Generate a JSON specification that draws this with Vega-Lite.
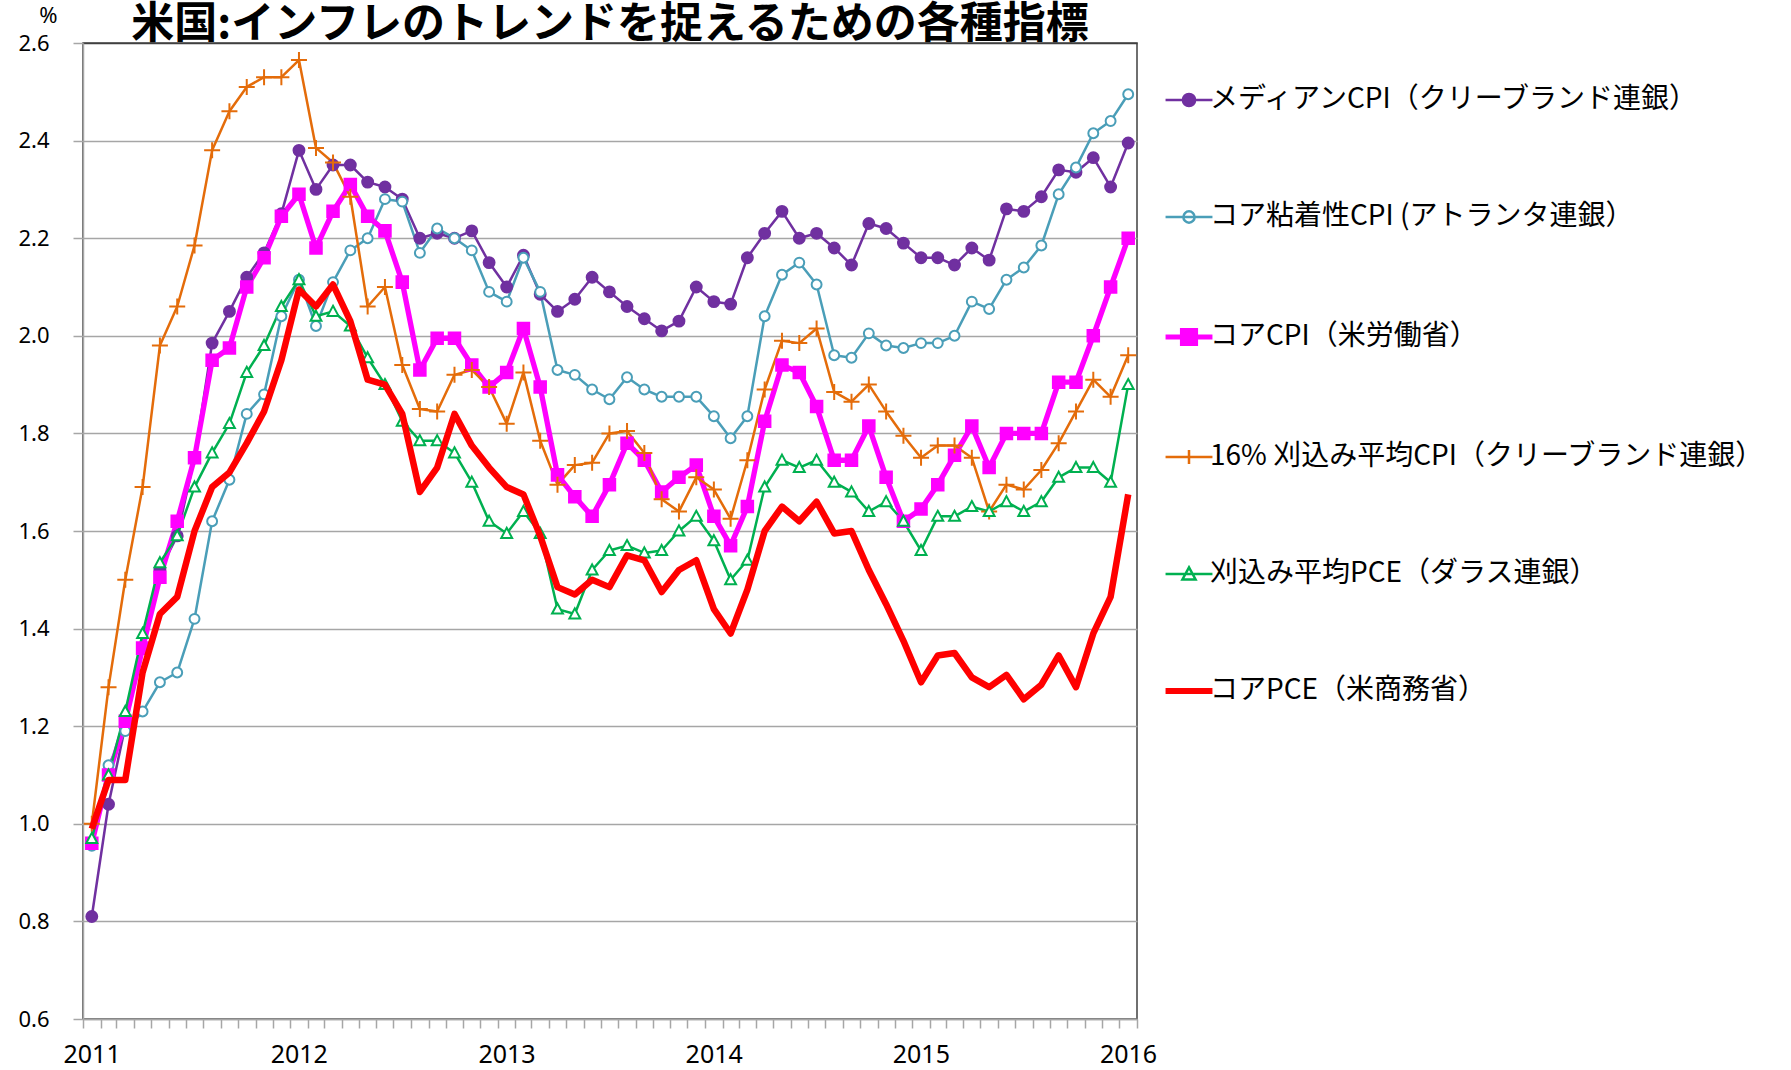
{
  "$schema": "https://vega.github.io/schema/vega-lite/v6.json",
  "width": 1054,
  "height": 976,
  "autosize": {"type": "none"},
  "padding": {"left": 83, "top": 43, "right": 654, "bottom": 51},
  "background": "white",
  "title": {"text": "米国:インフレのトレンドを捉えるための各種指標", "font": "Noto Sans CJK JP", "fontSize": 43, "fontWeight": "bold", "color": "#000000", "anchor": "middle", "frame": "group", "baseline": "alphabetic", "offset": -77},
  "data": {"values": [
    {"date": "2011/01/01", "median": 0.81, "sticky": 0.955, "core_cpi": 0.96, "trim16": 1.00, "trim_pce": 0.97, "core_pce": 0.99},
    {"date": "2011/02/01", "median": 1.04, "sticky": 1.12, "core_cpi": 1.10, "trim16": 1.28, "trim_pce": 1.10, "core_pce": 1.09},
    {"date": "2011/03/01", "median": 1.20, "sticky": 1.19, "core_cpi": 1.21, "trim16": 1.50, "trim_pce": 1.23, "core_pce": 1.09},
    {"date": "2011/04/01", "median": 1.36, "sticky": 1.23, "core_cpi": 1.36, "trim16": 1.69, "trim_pce": 1.39, "core_pce": 1.31},
    {"date": "2011/05/01", "median": 1.52, "sticky": 1.29, "core_cpi": 1.505, "trim16": 1.98, "trim_pce": 1.535, "core_pce": 1.43},
    {"date": "2011/06/01", "median": 1.59, "sticky": 1.31, "core_cpi": 1.62, "trim16": 2.06, "trim_pce": 1.59, "core_pce": 1.465},
    {"date": "2011/07/01", "median": 1.75, "sticky": 1.42, "core_cpi": 1.75, "trim16": 2.185, "trim_pce": 1.69, "core_pce": 1.60},
    {"date": "2011/08/01", "median": 1.985, "sticky": 1.62, "core_cpi": 1.95, "trim16": 2.38, "trim_pce": 1.76, "core_pce": 1.69},
    {"date": "2011/09/01", "median": 2.05, "sticky": 1.705, "core_cpi": 1.975, "trim16": 2.46, "trim_pce": 1.82, "core_pce": 1.72},
    {"date": "2011/10/01", "median": 2.12, "sticky": 1.84, "core_cpi": 2.10, "trim16": 2.51, "trim_pce": 1.925, "core_pce": 1.78},
    {"date": "2011/11/01", "median": 2.17, "sticky": 1.88, "core_cpi": 2.16, "trim16": 2.53, "trim_pce": 1.98, "core_pce": 1.845},
    {"date": "2011/12/01", "median": 2.25, "sticky": 2.04, "core_cpi": 2.245, "trim16": 2.53, "trim_pce": 2.06, "core_pce": 1.95},
    {"date": "2012/01/01", "median": 2.38, "sticky": 2.115, "core_cpi": 2.29, "trim16": 2.565, "trim_pce": 2.115, "core_pce": 2.095},
    {"date": "2012/02/01", "median": 2.30, "sticky": 2.02, "core_cpi": 2.18, "trim16": 2.385, "trim_pce": 2.04, "core_pce": 2.06},
    {"date": "2012/03/01", "median": 2.35, "sticky": 2.11, "core_cpi": 2.255, "trim16": 2.355, "trim_pce": 2.05, "core_pce": 2.105},
    {"date": "2012/04/01", "median": 2.35, "sticky": 2.175, "core_cpi": 2.31, "trim16": 2.285, "trim_pce": 2.02, "core_pce": 2.03},
    {"date": "2012/05/01", "median": 2.315, "sticky": 2.20, "core_cpi": 2.245, "trim16": 2.06, "trim_pce": 1.955, "core_pce": 1.91},
    {"date": "2012/06/01", "median": 2.305, "sticky": 2.28, "core_cpi": 2.215, "trim16": 2.10, "trim_pce": 1.90, "core_pce": 1.90},
    {"date": "2012/07/01", "median": 2.28, "sticky": 2.275, "core_cpi": 2.11, "trim16": 1.94, "trim_pce": 1.825, "core_pce": 1.84},
    {"date": "2012/08/01", "median": 2.20, "sticky": 2.17, "core_cpi": 1.93, "trim16": 1.85, "trim_pce": 1.785, "core_pce": 1.68},
    {"date": "2012/09/01", "median": 2.21, "sticky": 2.22, "core_cpi": 1.995, "trim16": 1.845, "trim_pce": 1.785, "core_pce": 1.73},
    {"date": "2012/10/01", "median": 2.20, "sticky": 2.20, "core_cpi": 1.995, "trim16": 1.92, "trim_pce": 1.76, "core_pce": 1.84},
    {"date": "2012/11/01", "median": 2.215, "sticky": 2.175, "core_cpi": 1.94, "trim16": 1.93, "trim_pce": 1.70, "core_pce": 1.775},
    {"date": "2012/12/01", "median": 2.15, "sticky": 2.09, "core_cpi": 1.895, "trim16": 1.895, "trim_pce": 1.62, "core_pce": 1.73},
    {"date": "2013/01/01", "median": 2.10, "sticky": 2.07, "core_cpi": 1.925, "trim16": 1.82, "trim_pce": 1.595, "core_pce": 1.69},
    {"date": "2013/02/01", "median": 2.165, "sticky": 2.16, "core_cpi": 2.015, "trim16": 1.925, "trim_pce": 1.64, "core_pce": 1.675},
    {"date": "2013/03/01", "median": 2.085, "sticky": 2.09, "core_cpi": 1.895, "trim16": 1.785, "trim_pce": 1.595, "core_pce": 1.59},
    {"date": "2013/04/01", "median": 2.05, "sticky": 1.93, "core_cpi": 1.715, "trim16": 1.695, "trim_pce": 1.44, "core_pce": 1.485},
    {"date": "2013/05/01", "median": 2.075, "sticky": 1.92, "core_cpi": 1.67, "trim16": 1.735, "trim_pce": 1.43, "core_pce": 1.47},
    {"date": "2013/06/01", "median": 2.12, "sticky": 1.89, "core_cpi": 1.63, "trim16": 1.74, "trim_pce": 1.52, "core_pce": 1.50},
    {"date": "2013/07/01", "median": 2.09, "sticky": 1.87, "core_cpi": 1.695, "trim16": 1.80, "trim_pce": 1.56, "core_pce": 1.485},
    {"date": "2013/08/01", "median": 2.06, "sticky": 1.915, "core_cpi": 1.78, "trim16": 1.805, "trim_pce": 1.57, "core_pce": 1.55},
    {"date": "2013/09/01", "median": 2.035, "sticky": 1.89, "core_cpi": 1.745, "trim16": 1.76, "trim_pce": 1.555, "core_pce": 1.54},
    {"date": "2013/10/01", "median": 2.01, "sticky": 1.875, "core_cpi": 1.68, "trim16": 1.665, "trim_pce": 1.56, "core_pce": 1.475},
    {"date": "2013/11/01", "median": 2.03, "sticky": 1.875, "core_cpi": 1.71, "trim16": 1.64, "trim_pce": 1.60, "core_pce": 1.52},
    {"date": "2013/12/01", "median": 2.10, "sticky": 1.875, "core_cpi": 1.735, "trim16": 1.71, "trim_pce": 1.63, "core_pce": 1.54},
    {"date": "2014/01/01", "median": 2.07, "sticky": 1.835, "core_cpi": 1.63, "trim16": 1.685, "trim_pce": 1.58, "core_pce": 1.44},
    {"date": "2014/02/01", "median": 2.065, "sticky": 1.79, "core_cpi": 1.57, "trim16": 1.625, "trim_pce": 1.50, "core_pce": 1.39},
    {"date": "2014/03/01", "median": 2.16, "sticky": 1.835, "core_cpi": 1.65, "trim16": 1.745, "trim_pce": 1.54, "core_pce": 1.48},
    {"date": "2014/04/01", "median": 2.21, "sticky": 2.04, "core_cpi": 1.825, "trim16": 1.89, "trim_pce": 1.69, "core_pce": 1.60},
    {"date": "2014/05/01", "median": 2.255, "sticky": 2.125, "core_cpi": 1.94, "trim16": 1.99, "trim_pce": 1.745, "core_pce": 1.65},
    {"date": "2014/06/01", "median": 2.20, "sticky": 2.15, "core_cpi": 1.925, "trim16": 1.985, "trim_pce": 1.73, "core_pce": 1.62},
    {"date": "2014/07/01", "median": 2.21, "sticky": 2.105, "core_cpi": 1.855, "trim16": 2.015, "trim_pce": 1.745, "core_pce": 1.66},
    {"date": "2014/08/01", "median": 2.18, "sticky": 1.96, "core_cpi": 1.745, "trim16": 1.885, "trim_pce": 1.70, "core_pce": 1.595},
    {"date": "2014/09/01", "median": 2.145, "sticky": 1.955, "core_cpi": 1.745, "trim16": 1.865, "trim_pce": 1.68, "core_pce": 1.60},
    {"date": "2014/10/01", "median": 2.23, "sticky": 2.005, "core_cpi": 1.815, "trim16": 1.90, "trim_pce": 1.64, "core_pce": 1.52},
    {"date": "2014/11/01", "median": 2.22, "sticky": 1.98, "core_cpi": 1.71, "trim16": 1.845, "trim_pce": 1.66, "core_pce": 1.45},
    {"date": "2014/12/01", "median": 2.19, "sticky": 1.975, "core_cpi": 1.62, "trim16": 1.795, "trim_pce": 1.62, "core_pce": 1.375},
    {"date": "2015/01/01", "median": 2.16, "sticky": 1.985, "core_cpi": 1.645, "trim16": 1.75, "trim_pce": 1.56, "core_pce": 1.29},
    {"date": "2015/02/01", "median": 2.16, "sticky": 1.985, "core_cpi": 1.695, "trim16": 1.775, "trim_pce": 1.63, "core_pce": 1.345},
    {"date": "2015/03/01", "median": 2.145, "sticky": 2.00, "core_cpi": 1.755, "trim16": 1.775, "trim_pce": 1.63, "core_pce": 1.35},
    {"date": "2015/04/01", "median": 2.18, "sticky": 2.07, "core_cpi": 1.815, "trim16": 1.75, "trim_pce": 1.65, "core_pce": 1.30},
    {"date": "2015/05/01", "median": 2.155, "sticky": 2.055, "core_cpi": 1.73, "trim16": 1.64, "trim_pce": 1.64, "core_pce": 1.28},
    {"date": "2015/06/01", "median": 2.26, "sticky": 2.115, "core_cpi": 1.80, "trim16": 1.695, "trim_pce": 1.66, "core_pce": 1.305},
    {"date": "2015/07/01", "median": 2.255, "sticky": 2.14, "core_cpi": 1.80, "trim16": 1.685, "trim_pce": 1.64, "core_pce": 1.255},
    {"date": "2015/08/01", "median": 2.285, "sticky": 2.185, "core_cpi": 1.80, "trim16": 1.725, "trim_pce": 1.66, "core_pce": 1.285},
    {"date": "2015/09/01", "median": 2.34, "sticky": 2.29, "core_cpi": 1.905, "trim16": 1.78, "trim_pce": 1.71, "core_pce": 1.345},
    {"date": "2015/10/01", "median": 2.335, "sticky": 2.345, "core_cpi": 1.905, "trim16": 1.845, "trim_pce": 1.73, "core_pce": 1.28},
    {"date": "2015/11/01", "median": 2.365, "sticky": 2.415, "core_cpi": 2.00, "trim16": 1.91, "trim_pce": 1.73, "core_pce": 1.39},
    {"date": "2015/12/01", "median": 2.305, "sticky": 2.44, "core_cpi": 2.10, "trim16": 1.875, "trim_pce": 1.70, "core_pce": 1.465},
    {"date": "2016/01/01", "median": 2.395, "sticky": 2.495, "core_cpi": 2.20, "trim16": 1.96, "trim_pce": 1.90, "core_pce": 1.675}
  ]},
  "transform": [{"fold": ["median", "sticky", "core_cpi", "trim16", "trim_pce", "core_pce"], "as": ["series", "value"]}],
  "encoding": {
    "x": {
      "field": "date", "type": "temporal", "timeUnit": "yearmonth", "bandPosition": 0.5,
      "scale": {"domain": [{"year": 2011, "month": 1, "date": 1}, {"year": 2016, "month": 2, "date": 1}], "nice": false},
      "axis": {
        "title": null, "grid": false,
        "tickCount": {"interval": "month", "step": 1},
        "labelExpr": "month(datum.value) == 0 ? timeFormat(datum.value, '%Y') : ''",
        "labelOffset": 8.6, "labelFlush": false, "labelOverlap": false, "labelBound": false,
        "tickSize": 9, "tickWidth": 1.5, "tickColor": "#a6a6a6",
        "domainColor": "#a6a6a6", "domainWidth": 1.5,
        "labelFontSize": 25, "labelPadding": 14, "labelFont": "Noto Sans", "labelColor": "#000000"
      }
    },
    "y": {
      "field": "value", "type": "quantitative",
      "scale": {"domain": [0.6, 2.6], "nice": false, "zero": false},
      "axis": {
        "values": [0.6, 0.8, 1.0, 1.2, 1.4, 1.6, 1.8, 2.0, 2.2, 2.4, 2.6],
        "format": ".1f",
        "title": "%", "titleAngle": 0, "titleX": -35, "titleY": -21, "titleAlign": "center", "titleBaseline": "alphabetic",
        "titleFontSize": 22, "titleFontWeight": "normal", "titleFont": "Noto Sans", "titleColor": "#000000",
        "grid": true,
        "gridColor": {"condition": {"test": "datum.value === 2.6", "value": "#404040"}, "value": "#a6a6a6"},
        "gridWidth": 1.5,
        "tickSize": 10, "tickWidth": 1.5, "tickColor": "#a6a6a6",
        "domainColor": "#a6a6a6", "domainWidth": 1.5,
        "labelFontSize": 22, "labelPadding": 24, "labelFont": "Noto Sans", "labelColor": "#000000"
      }
    },
    "stroke": {
      "field": "series", "type": "nominal",
      "scale": {
        "domain": ["median", "sticky", "core_cpi", "trim16", "trim_pce", "core_pce"],
        "range": ["#7030A0", "#4A9EB8", "#FF00FF", "#E46C0A", "#00B050", "#FF0000"]
      },
      "legend": {
        "title": null, "orient": "none", "legendX": 1092, "legendY": 43, "direction": "vertical",
        "symbolSize": 2200, "symbolStrokeWidth": 2.5, "symbolType": "M-1,0H1",
        "labelFontSize": 28, "labelFont": "Noto Sans CJK JP", "labelColor": "#000000", "labelLimit": 900, "labelOffset": 7,
        "rowPadding": 89, "padding": 0,
        "labelExpr": "datum.value === 'median' ? 'メディアンCPI（クリーブランド連銀）' : datum.value === 'sticky' ? 'コア粘着性CPI (アトランタ連銀）' : datum.value === 'core_cpi' ? 'コアCPI（米労働省）' : datum.value === 'trim16' ? '16% 刈込み平均CPI（クリーブランド連銀）' : datum.value === 'trim_pce' ? '刈込み平均PCE（ダラス連銀）' : 'コアPCE（米商務省）'",
        "encode": {
          "symbols": {
            "update": {
              "shape": {"signal": "datum.value === 'median' ? 'M-1,0H1M0.26,0A0.26,0.26,0,1,1,-0.26,0A0.26,0.26,0,1,1,0.26,0Z' : datum.value === 'sticky' ? 'M-1,0H1M0.24,0A0.24,0.24,0,1,1,-0.24,0A0.24,0.24,0,1,1,0.24,0Z' : datum.value === 'core_cpi' ? 'M-1,0H1M-0.28,-0.28H0.28V0.28H-0.28Z' : datum.value === 'trim16' ? 'M-1,0H1M0,-0.3V0.3' : datum.value === 'trim_pce' ? 'M-1,0H1M0,-0.28L0.28,0.23H-0.28Z' : 'M-1,0H1'"},
              "fill": {"signal": "datum.value === 'median' ? '#7030A0' : datum.value === 'core_cpi' ? '#FF00FF' : 'transparent'"},
              "strokeWidth": {"signal": "datum.value === 'core_pce' ? 6 : datum.value === 'core_cpi' ? 5 : 2.5"},
              "size": {"value": 2200},
              "opacity": {"value": 1}
            }
          }
        }
      }
    }
  },
  "layer": [
    {
      "transform": [{"filter": "datum.series !== 'core_pce'"}],
      "mark": {"type": "line", "strokeJoin": "round"},
      "encoding": {"strokeWidth": {"condition": {"test": "datum.series === 'core_cpi'", "value": 5.3}, "value": 2.5}}
    },
    {
      "transform": [{"filter": "datum.series !== 'core_pce'"}],
      "mark": {"type": "point", "filled": false, "size": 256, "strokeWidth": 2, "opacity": 1},
      "encoding": {
        "shape": {
          "condition": [
            {"test": "datum.series === 'median'", "value": "M0.68,0A0.68,0.68,0,1,1,-0.68,0A0.68,0.68,0,1,1,0.68,0Z"},
            {"test": "datum.series === 'sticky'", "value": "M0.62,0A0.62,0.62,0,1,1,-0.62,0A0.62,0.62,0,1,1,0.62,0Z"},
            {"test": "datum.series === 'core_cpi'", "value": "M-0.72,-0.72H0.72V0.72H-0.72Z"},
            {"test": "datum.series === 'trim16'", "value": "M-1,0H1M0,-1V1"}
          ],
          "value": "M0,-0.7L0.68,0.56H-0.68Z"
        },
        "fill": {
          "condition": [
            {"test": "datum.series === 'median'", "value": "#7030A0"},
            {"test": "datum.series === 'core_cpi'", "value": "#FF00FF"},
            {"test": "datum.series === 'trim16'", "value": "transparent"}
          ],
          "value": "#ffffff"
        }
      }
    },
    {
      "transform": [{"filter": "datum.series === 'core_pce'"}],
      "mark": {"type": "line", "strokeWidth": 6.5, "strokeJoin": "round"}
    }
  ],
  "config": {
    "view": {"stroke": "#404040", "strokeWidth": 1.5},
    "font": "Noto Sans"
  }
}
